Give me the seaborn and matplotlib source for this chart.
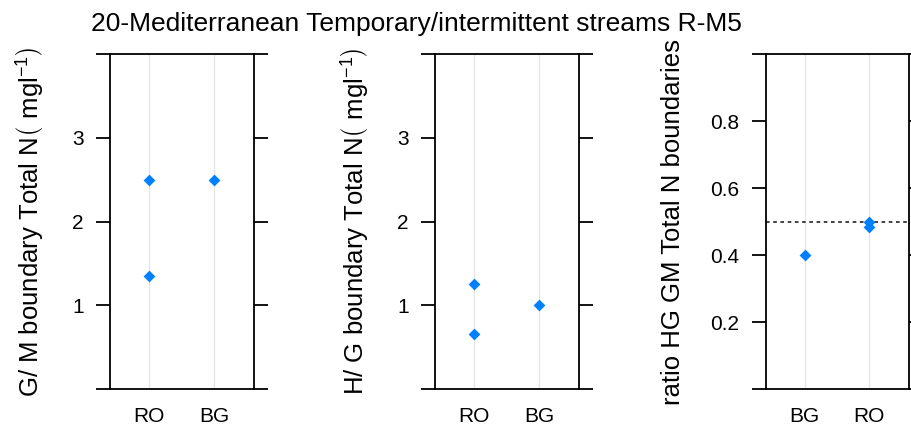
import pandas as pd
import matplotlib.pyplot as plt
import seaborn as sns

# values
gm_sites = ["RO", "RO", "BG"]
gm_values = [2.5, 1.35, 2.5]
hg_sites = ["RO", "RO", "BG"]
hg_values = [1.25, 0.66, 1.0]
ratio_sites = ["BG", "RO", "RO"]
ratio_values = [0.40, 0.50, 0.485]
ratio_ref = 0.5

title = "20-Mediterranean Temporary/intermittent streams R-M5"

sns.set_style("white")
plt.rcParams['font.family'] = ['Liberation Sans', 'DejaVu Sans']
plt.rcParams['mathtext.fontset'] = 'custom'
plt.rcParams['mathtext.rm'] = 'Liberation Sans'
for k in ['text.color', 'axes.labelcolor', 'xtick.color', 'ytick.color']:
    plt.rcParams[k] = 'black'

fig = plt.figure(figsize=(9.12, 4.3), dpi=100)
blue = '#0080FF'

def panel(rect, sites, values, order, ylabel, ylim, ticks, labels, label_x):
    ax = fig.add_axes(rect)
    df = pd.DataFrame({'site': sites, 'value': values})
    for i in range(len(order)):
        ax.axvline(i, color='#E6E6E6', lw=1, zorder=0)
    sns.stripplot(data=df, x='site', y='value', order=order, jitter=False,
                  marker='D', size=6, color=blue, linewidth=0, ax=ax, zorder=3)
    ax.set_xlim(-0.6, 1.62)
    ax.set_ylim(*ylim)
    ax.set_yticks(ticks)
    ax.set_yticklabels(labels)
    ax.set_xlabel('')
    ax.set_ylabel(ylabel, fontsize=18.5)
    ax.yaxis.set_label_coords(label_x, 0.5)
    for s in ax.spines.values():
        s.set_visible(True)
        s.set_color('black')
        s.set_linewidth(1.3)
    ax.tick_params(axis='y', which='both', direction='out', length=10, width=1.3,
                   left=True, right=True, labelright=False, labelsize=15, pad=9)
    ax.tick_params(axis='x', length=0, labelsize=15, pad=13)
    return ax

yl = (0, 4)
yt = [0, 1, 2, 3, 4]
ytl = ['', '1', '2', '3', '']

panel([0.1206, 0.0953, 0.158, 0.779], gm_sites, gm_values, ['RO', 'BG'],
      r"G/ M boundary Total N$\left(\ \mathrm{mgl^{-1}}\right)$", yl, yt, ytl, -0.44)
panel([0.477, 0.0953, 0.158, 0.779], hg_sites, hg_values, ['RO', 'BG'],
      r"H/ G boundary Total N$\left(\ \mathrm{mgl^{-1}}\right)$", yl, yt, ytl, -0.44)
ax3 = panel([0.8396, 0.0953, 0.1575, 0.779], ratio_sites, ratio_values, ['BG', 'RO'],
            "ratio HG GM Total N boundaries", (0, 1),
            [0, 0.2, 0.4, 0.6, 0.8, 1.0], ['', '0.2', '0.4', '0.6', '0.8', ''], -0.56)
ax3.axhline(ratio_ref, color='#333333', lw=1.3, ls=(0, (2, 2)), zorder=2)

fig.text(0.457, 0.945, title, ha='center', va='center', fontsize=19)

fig.savefig('out.png', dpi=100)
